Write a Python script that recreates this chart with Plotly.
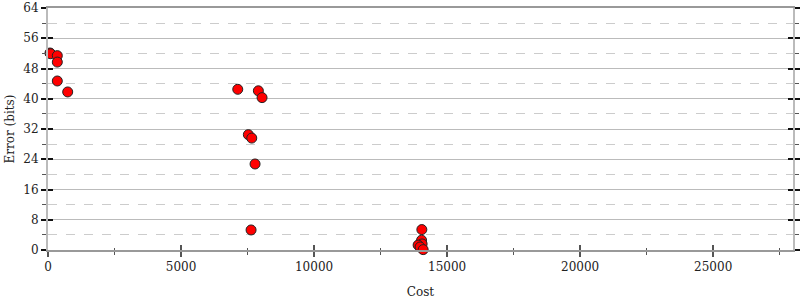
import plotly.graph_objects as go

cost = [75, 100, 350, 350, 350, 740,
        7132, 7906, 8045, 7530, 7658, 7782, 7632,
        14050, 14040, 14060, 13910, 13985, 14100]
error = [52.1, 51.9, 51.4, 49.7, 44.7, 41.8,
         42.5, 42.1, 40.3, 30.5, 29.6, 22.75, 5.3,
         5.4, 2.6, 1.6, 1.3, 0.8, 0.1]

x_range = [0, 28000]
y_range = [0, 64]

font = dict(family="DejaVu Serif", size=12, color="#222")

fig = go.Figure()
fig.add_trace(go.Scatter(
    x=cost, y=error, mode="markers",
    marker=dict(size=10, color="#ff0000", line=dict(color="#222", width=1)),
    cliponaxis=False, showlegend=False,
))
fig.add_trace(go.Scatter(x=[], y=[], xaxis="x2", yaxis="y2", showlegend=False))

fig.update_layout(
    width=800, height=300,
    margin=dict(l=48, r=7, t=8, b=50, autoexpand=False),
    paper_bgcolor="white", plot_bgcolor="white",
    font=font,
    xaxis=dict(
        range=x_range, dtick=5000, tick0=0, tickformat="d", automargin=False,
        showline=True, linecolor="#999", linewidth=2, mirror=True,
        ticks="outside", ticklen=5, tickcolor="#555", tickwidth=2,
        showgrid=False, zeroline=False,
        minor=dict(dtick=2500, ticks="outside", ticklen=3, tickcolor="#555", tickwidth=1, showgrid=False),
        title=dict(text="Cost", standoff=14, font=font),
        tickfont=font,
    ),
    yaxis=dict(
        range=y_range, dtick=8, tick0=0, automargin=False,
        showline=True, linecolor="#bbb", linewidth=2, mirror="allticks",
        ticks="outside", ticklen=5, tickcolor="#111", tickwidth=2,
        showgrid=True, gridcolor="#bbb", gridwidth=1, zeroline=False,
        minor=dict(dtick=4, ticks="outside", ticklen=4, tickcolor="#555", tickwidth=1,
                   showgrid=True, gridcolor="#ccc", griddash="dash", gridwidth=1),
        title=dict(text="Error (bits)", standoff=6, font=font),
        tickfont=font,
    ),
    xaxis2=dict(
        range=x_range, dtick=5000, tick0=0, overlaying="x", automargin=False,
        showline=False, ticks="inside", ticklen=5, tickcolor="#555", tickwidth=2,
        showgrid=False, zeroline=False, showticklabels=False,
        minor=dict(dtick=2500, ticks="inside", ticklen=2, tickcolor="#555", tickwidth=1, showgrid=False),
    ),
    yaxis2=dict(
        range=y_range, dtick=8, tick0=0, overlaying="y", mirror="allticks", automargin=False,
        showline=False, ticks="inside", ticklen=5, tickcolor="#111", tickwidth=2,
        showgrid=False, zeroline=False, showticklabels=False,
    ),
)

fig.write_html("out.html")
